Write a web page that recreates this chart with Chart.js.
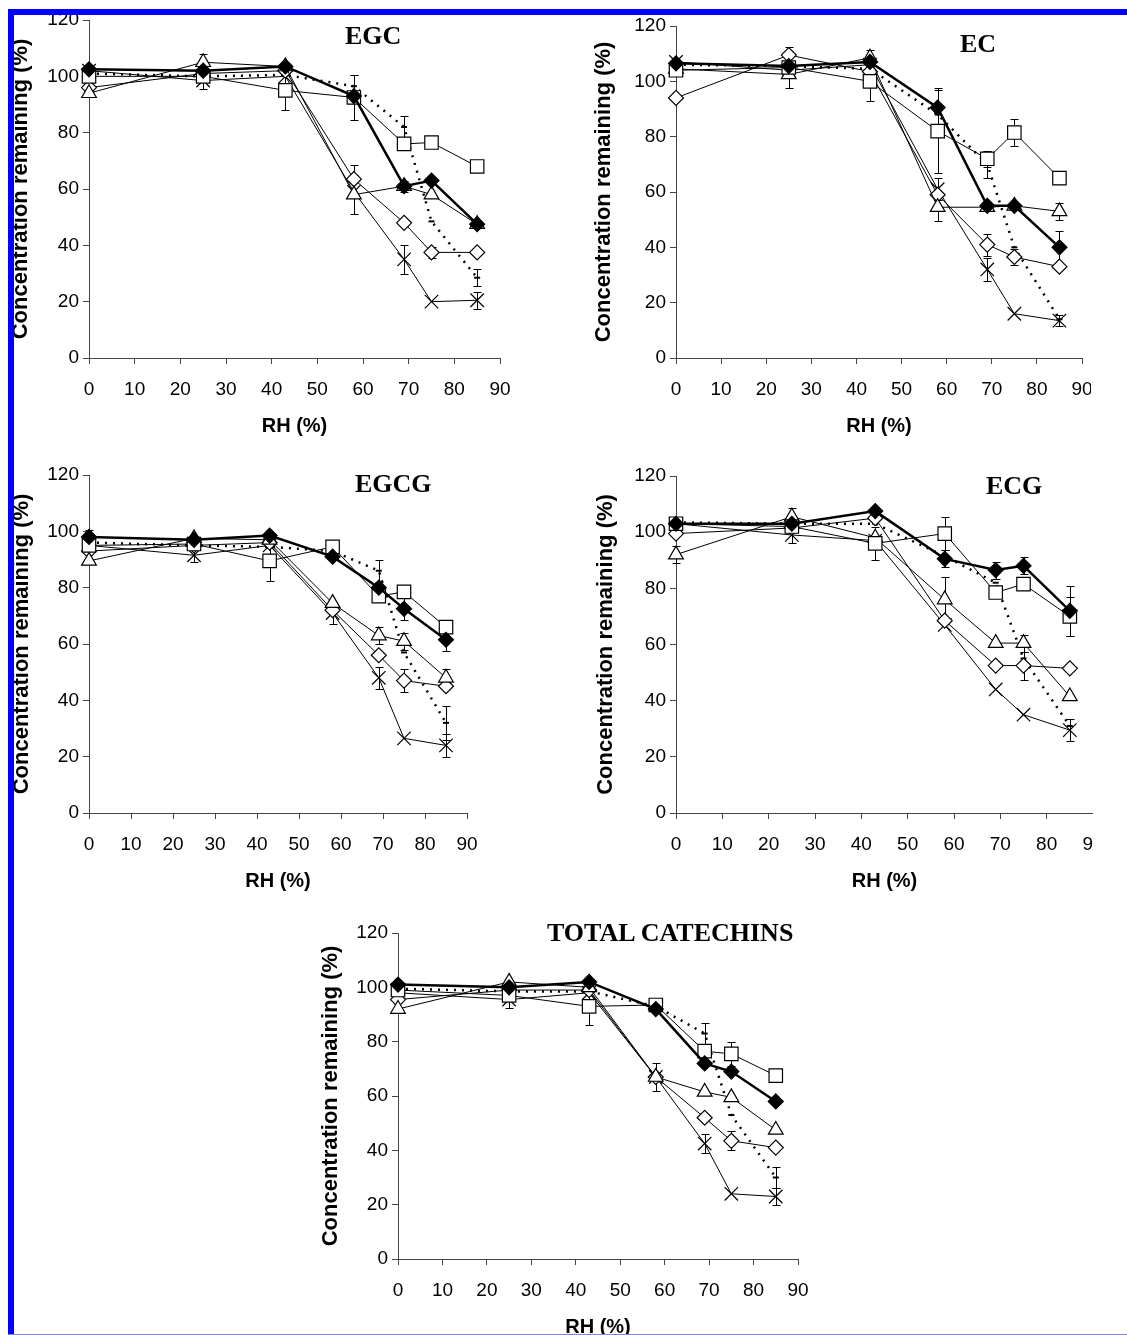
<!DOCTYPE html>
<html lang="en">
<head>
<meta charset="UTF-8">
<title>Catechins vs RH</title>
<script src="https://cdn.jsdelivr.net/npm/chart.js"></script>
<style>
body{margin:0;background:#fff;}
#page{position:relative;width:1127px;height:1335px;overflow:hidden;background:#fff;}
.clip{position:absolute;overflow:hidden;}
.clip canvas{position:absolute;left:0;top:0;}
.ptitle{position:absolute;font:bold 26px "Liberation Serif","Times New Roman",serif;line-height:26px;color:#000;white-space:nowrap;}
.bar{position:absolute;background:#0000ff;z-index:5;}
</style>
</head>
<body>
<div id="page">
  <div class="bar" style="left:8px;top:9px;width:1119px;height:6px;"></div>
  <div class="bar" style="left:8px;top:9px;width:6px;height:1326px;"></div>
  <div class="bar" style="left:8px;top:1334px;width:1119px;height:1px;background:#8080ff;"></div>

  <div class="clip" id="wrapEGC"><canvas id="cEGC"></canvas></div>
  <div class="clip" id="wrapEC"><canvas id="cEC"></canvas></div>
  <div class="clip" id="wrapEGCG"><canvas id="cEGCG"></canvas></div>
  <div class="clip" id="wrapECG"><canvas id="cECG"></canvas></div>
  <div class="clip" id="wrapTOT"><canvas id="cTOT"></canvas></div>

  <div class="ptitle" style="left:345px;top:23px;">EGC</div>
  <div class="ptitle" style="left:960px;top:31px;">EC</div>
  <div class="ptitle" style="left:355px;top:471px;">EGCG</div>
  <div class="ptitle" style="left:986px;top:473px;">ECG</div>
  <div class="ptitle" style="left:547px;top:920px;">TOTAL CATECHINS</div>
</div>

<script>
// RH levels (%)
const rh = [0, 25, 43, 58, 69, 75, 85];
const xTicks = [0, 10, 20, 30, 40, 50, 60, 70, 80, 90];
const yTicks = [0, 20, 40, 60, 80, 100, 120];

// EGC
const egcFilled   = [102.5, 102, 103.5, 93, 61, 63, 47.5];
const egcSquare   = [100, 100, 95, 92.5, 76, 76.5, 68];
const egcTriangle = [94, 105, 103.5, 58, 61, 58, 47.5];
const egcDiamond  = [96, 101, 102, 63.5, 48, 37.5, 37.5];
const egcCross    = [102, 98.5, 100, 59, 35, 20, 20.5];
const egcDotted   = [101, 100, 100.5, 96.5, 82, 48.5, 28.5];
const egcFilledErr   = [null, null, null, null, 2, null, null];
const egcSquareErr   = [null, null, 7, 8, null, null, null];
const egcTriangleErr = [null, 3, null, 7, null, null, null];
const egcDiamondErr  = [null, null, null, 5, null, 2, null];
const egcCrossErr    = [null, 3, null, null, 5, null, 3];
const egcDottedErr   = [null, null, null, 4, 4, null, 3];

// EC
const ecFilled   = [106.5, 105.5, 107, 90.5, 55, 55, 40];
const ecSquare   = [104, 105, 100, 82, 72, 81.5, 65];
const ecTriangle = [104.5, 102.5, 108.5, 54.5, 54.5, 55, 53];
const ecDiamond  = [94, 109.5, 103.5, 59, 41, 36.5, 33];
const ecCross    = [107, 104, 106, 61, 32, 16, 13.5];
const ecDotted   = [106, 105.5, 104.5, 88, 70, 40, 14];
const ecFilledErr   = [null, null, null, 7, null, null, 6];
const ecSquareErr   = [null, null, 7, 15, 3, 5, 2];
const ecTriangleErr = [null, 5, 3, 5, null, null, 3];
const ecDiamondErr  = [null, 3, null, null, 4, 3, null];
const ecCrossErr    = [null, null, null, 4, 4, null, 2];
const ecDottedErr   = [null, null, null, null, 5, null, null];

// EGCG
const egcgFilled   = [98, 97, 98.5, 91, 80, 72.5, 61.5];
const egcgSquare   = [95, 95.5, 89.5, 94.5, 77, 78.5, 66];
const egcgTriangle = [89.5, 97.5, 97, 74.5, 63, 61, 48];
const egcgDiamond  = [93, 95, 96, 72, 56, 47, 45];
const egcgCross    = [95, 91.5, 95, 71, 48, 26.5, 24];
const egcgDotted   = [96, 95, 94.5, 93, 86, 57, 32];
const egcgFilledErr   = [2.5, null, null, null, null, 4, 4];
const egcgSquareErr   = [null, null, 7, null, null, null, null];
const egcgTriangleErr = [null, null, null, null, 3, 3, 3];
const egcgDiamondErr  = [null, null, null, null, null, 4, null];
const egcgCrossErr    = [null, 2.5, null, 4, 4, null, 4];
const egcgDottedErr   = [null, null, null, null, 4, null, 6];

// ECG
const ecgFilled   = [103, 103, 107.5, 90.5, 86.5, 88, 72];
const ecgSquare   = [103, 102, 96, 99.5, 78.5, 81.5, 70];
const ecgTriangle = [92, 105.5, 98, 76, 60.5, 60.5, 41.5];
const ecgDiamond  = [99.5, 101.5, 105, 68.5, 52.5, 52.5, 51.5];
const ecgCross    = [103, 99, 97, 67, 44, 35, 29.5];
const ecgDotted   = [103.5, 103, 103, 91.5, 82, 55, 31];
const ecgFilledErr   = [null, null, null, 3, 3, 3, 9];
const ecgSquareErr   = [null, null, 6, 6, null, null, 7];
const ecgTriangleErr = [3, 3, null, 8, null, 3, null];
const ecgDiamondErr  = [null, null, null, null, null, 5, null];
const ecgCrossErr    = [null, 3, null, null, null, null, 4];
const ecgDottedErr   = [null, null, null, null, null, null, null];

// Total catechins
const totFilled   = [101, 100, 102, 92, 72, 69, 58];
const totSquare   = [99, 97, 93, 93.5, 76.5, 75.5, 67.5];
const totTriangle = [92, 102, 100, 67, 61.5, 59.5, 47.5];
const totDiamond  = [95.5, 99, 99, 67, 52, 43.5, 41];
const totCross    = [98, 95.5, 98, 67, 42.5, 24, 23];
const totDotted   = [99.5, 98.5, 98.5, 93, 83, 53, 30];
const totFilledErr   = [1.5, null, null, null, null, null, null];
const totSquareErr   = [null, null, 7, null, null, 4.5, null];
const totTriangleErr = [null, null, null, 5, null, null, null];
const totDiamondErr  = [null, null, null, null, null, 3.5, null];
const totCrossErr    = [null, 3, null, null, 3.5, null, 3];
const totDottedErr   = [null, null, null, null, 4, null, 4];

// marker / line look for the six series (same order in every panel)
const styles = [
  {ps:'rectRot',  r:7.5, bg:'#000', lw:2.5, dash:[]},
  {ps:'rect',     r:9.5, bg:'#fff', lw:1,   dash:[]},
  {ps:'triangle', r:8.5, bg:'#fff', lw:1,   dash:[]},
  {ps:'rectRot',  r:7.5, bg:'#fff', lw:1,   dash:[]},
  {ps:'crossRot', r:9.5, bg:'#fff', lw:1,   dash:[]},
  {ps:'line',     r:3,   bg:'#000', lw:2.5, dash:[2,6]}
];

const tickFont = {family:'"Liberation Sans", Arial, sans-serif', size:19};
const titleFont = {family:'"Liberation Sans", Arial, sans-serif', size:20, weight:'bold', lineHeight:1};

const errorBars = {
  id:'errorBars',
  beforeDatasetsDraw(chart){
    const {ctx, scales:{x, y}} = chart;
    ctx.save();
    ctx.strokeStyle = '#000';
    ctx.lineWidth = 1;
    chart.data.datasets.forEach(ds => {
      if(!ds.err) return;
      ds.data.forEach((p, i) => {
        const e = ds.err[i];
        if(e == null) return;
        const px = Math.round(x.getPixelForValue(p.x)) + 0.5;
        const t = Math.round(y.getPixelForValue(p.y + e)) + 0.5;
        const b = Math.round(y.getPixelForValue(p.y - e)) + 0.5;
        ctx.beginPath();
        ctx.moveTo(px, t); ctx.lineTo(px, b);
        ctx.moveTo(px - 4, t); ctx.lineTo(px + 4, t);
        ctx.moveTo(px - 4, b); ctx.lineTo(px + 4, b);
        ctx.stroke();
      });
    });
    ctx.restore();
  }
};

// area = page pixels of the plot box (x=0..90, y=0..120); clipRight crops the panel
function panel(id, area, titleX, series, errs, clipRight){
  const yW = 90, padT = 30, padR = 30, xH = 90;
  const w = area.r - area.l + yW + padR;
  const h = area.b - area.t + padT + xH;
  const left = area.l - yW, top = area.t - padT;
  const wrap = document.getElementById('wrap' + id);
  wrap.style.left = left + 'px';
  wrap.style.top = top + 'px';
  wrap.style.width = ((clipRight ? clipRight : left + w) - left) + 'px';
  wrap.style.height = h + 'px';
  const cv = document.getElementById('c' + id);
  cv.width = w; cv.height = h;

  const datasets = series.map((vals, k) => {
    const s = styles[k];
    return {
      data: rh.map((x, i) => ({x:x, y:vals[i]})),
      err: errs[k],
      borderColor:'#000',
      borderWidth:s.lw,
      borderDash:s.dash,
      pointStyle:s.ps,
      pointRadius:s.r,
      pointBackgroundColor:s.bg,
      pointBorderColor:'#000',
      pointBorderWidth:k === 5 ? 2 : 1.2,
      tension:0,
      fill:false,
      clip:false
    };
  });

  new Chart(cv.getContext('2d'), {
    type:'line',
    data:{datasets:datasets},
    plugins:[errorBars],
    options:{
      responsive:false,
      animation:false,
      devicePixelRatio:1,
      layout:{padding:{left:0, right:padR, top:padT, bottom:0}},
      plugins:{legend:{display:false}, tooltip:{enabled:false}},
      scales:{
        x:{
          type:'linear', min:0, max:90,
          afterBuildTicks(s){ s.ticks = xTicks.map(v => ({value:v})); },
          ticks:{color:'#000', font:tickFont, padding:14, maxRotation:0},
          grid:{drawOnChartArea:false, tickLength:6, color:'#444'},
          border:{color:'#444', width:1},
          title:{display:true, text:'RH (%)', color:'#000', font:titleFont, padding:{top:0, bottom:12}},
          afterFit(s){ s.height = xH; }
        },
        y:{
          type:'linear', min:0, max:120,
          afterBuildTicks(s){ s.ticks = yTicks.map(v => ({value:v})); },
          ticks:{color:'#000', font:tickFont, padding:4},
          grid:{drawOnChartArea:false, tickLength:6, color:'#444'},
          border:{color:'#444', width:1},
          title:{display:true, text:'Concentration remaining (%)', color:'#000',
                 font:{family:titleFont.family, size:22, weight:'bold', lineHeight:1},
                 padding:{top:titleX - 11, bottom:0}},
          afterFit(s){ s.width = yW; }
        }
      }
    }
  });
}

panel('EGC', {l:89, r:500, t:20, b:358}, 22,
  [egcFilled, egcSquare, egcTriangle, egcDiamond, egcCross, egcDotted],
  [egcFilledErr, egcSquareErr, egcTriangleErr, egcDiamondErr, egcCrossErr, egcDottedErr]);

panel('EC', {l:676, r:1082, t:26, b:358}, 18,
  [ecFilled, ecSquare, ecTriangle, ecDiamond, ecCross, ecDotted],
  [ecFilledErr, ecSquareErr, ecTriangleErr, ecDiamondErr, ecCrossErr, ecDottedErr], 1091);

panel('EGCG', {l:89, r:467, t:475, b:813}, 23,
  [egcgFilled, egcgSquare, egcgTriangle, egcgDiamond, egcgCross, egcgDotted],
  [egcgFilledErr, egcgSquareErr, egcgTriangleErr, egcgDiamondErr, egcgCrossErr, egcgDottedErr]);

panel('ECG', {l:676, r:1093, t:476, b:813}, 20,
  [ecgFilled, ecgSquare, ecgTriangle, ecgDiamond, ecgCross, ecgDotted],
  [ecgFilledErr, ecgSquareErr, ecgTriangleErr, ecgDiamondErr, ecgCrossErr, ecgDottedErr], 1093);

panel('TOT', {l:398, r:798, t:933, b:1259}, 23,
  [totFilled, totSquare, totTriangle, totDiamond, totCross, totDotted],
  [totFilledErr, totSquareErr, totTriangleErr, totDiamondErr, totCrossErr, totDottedErr]);
</script>
</body>
</html>
